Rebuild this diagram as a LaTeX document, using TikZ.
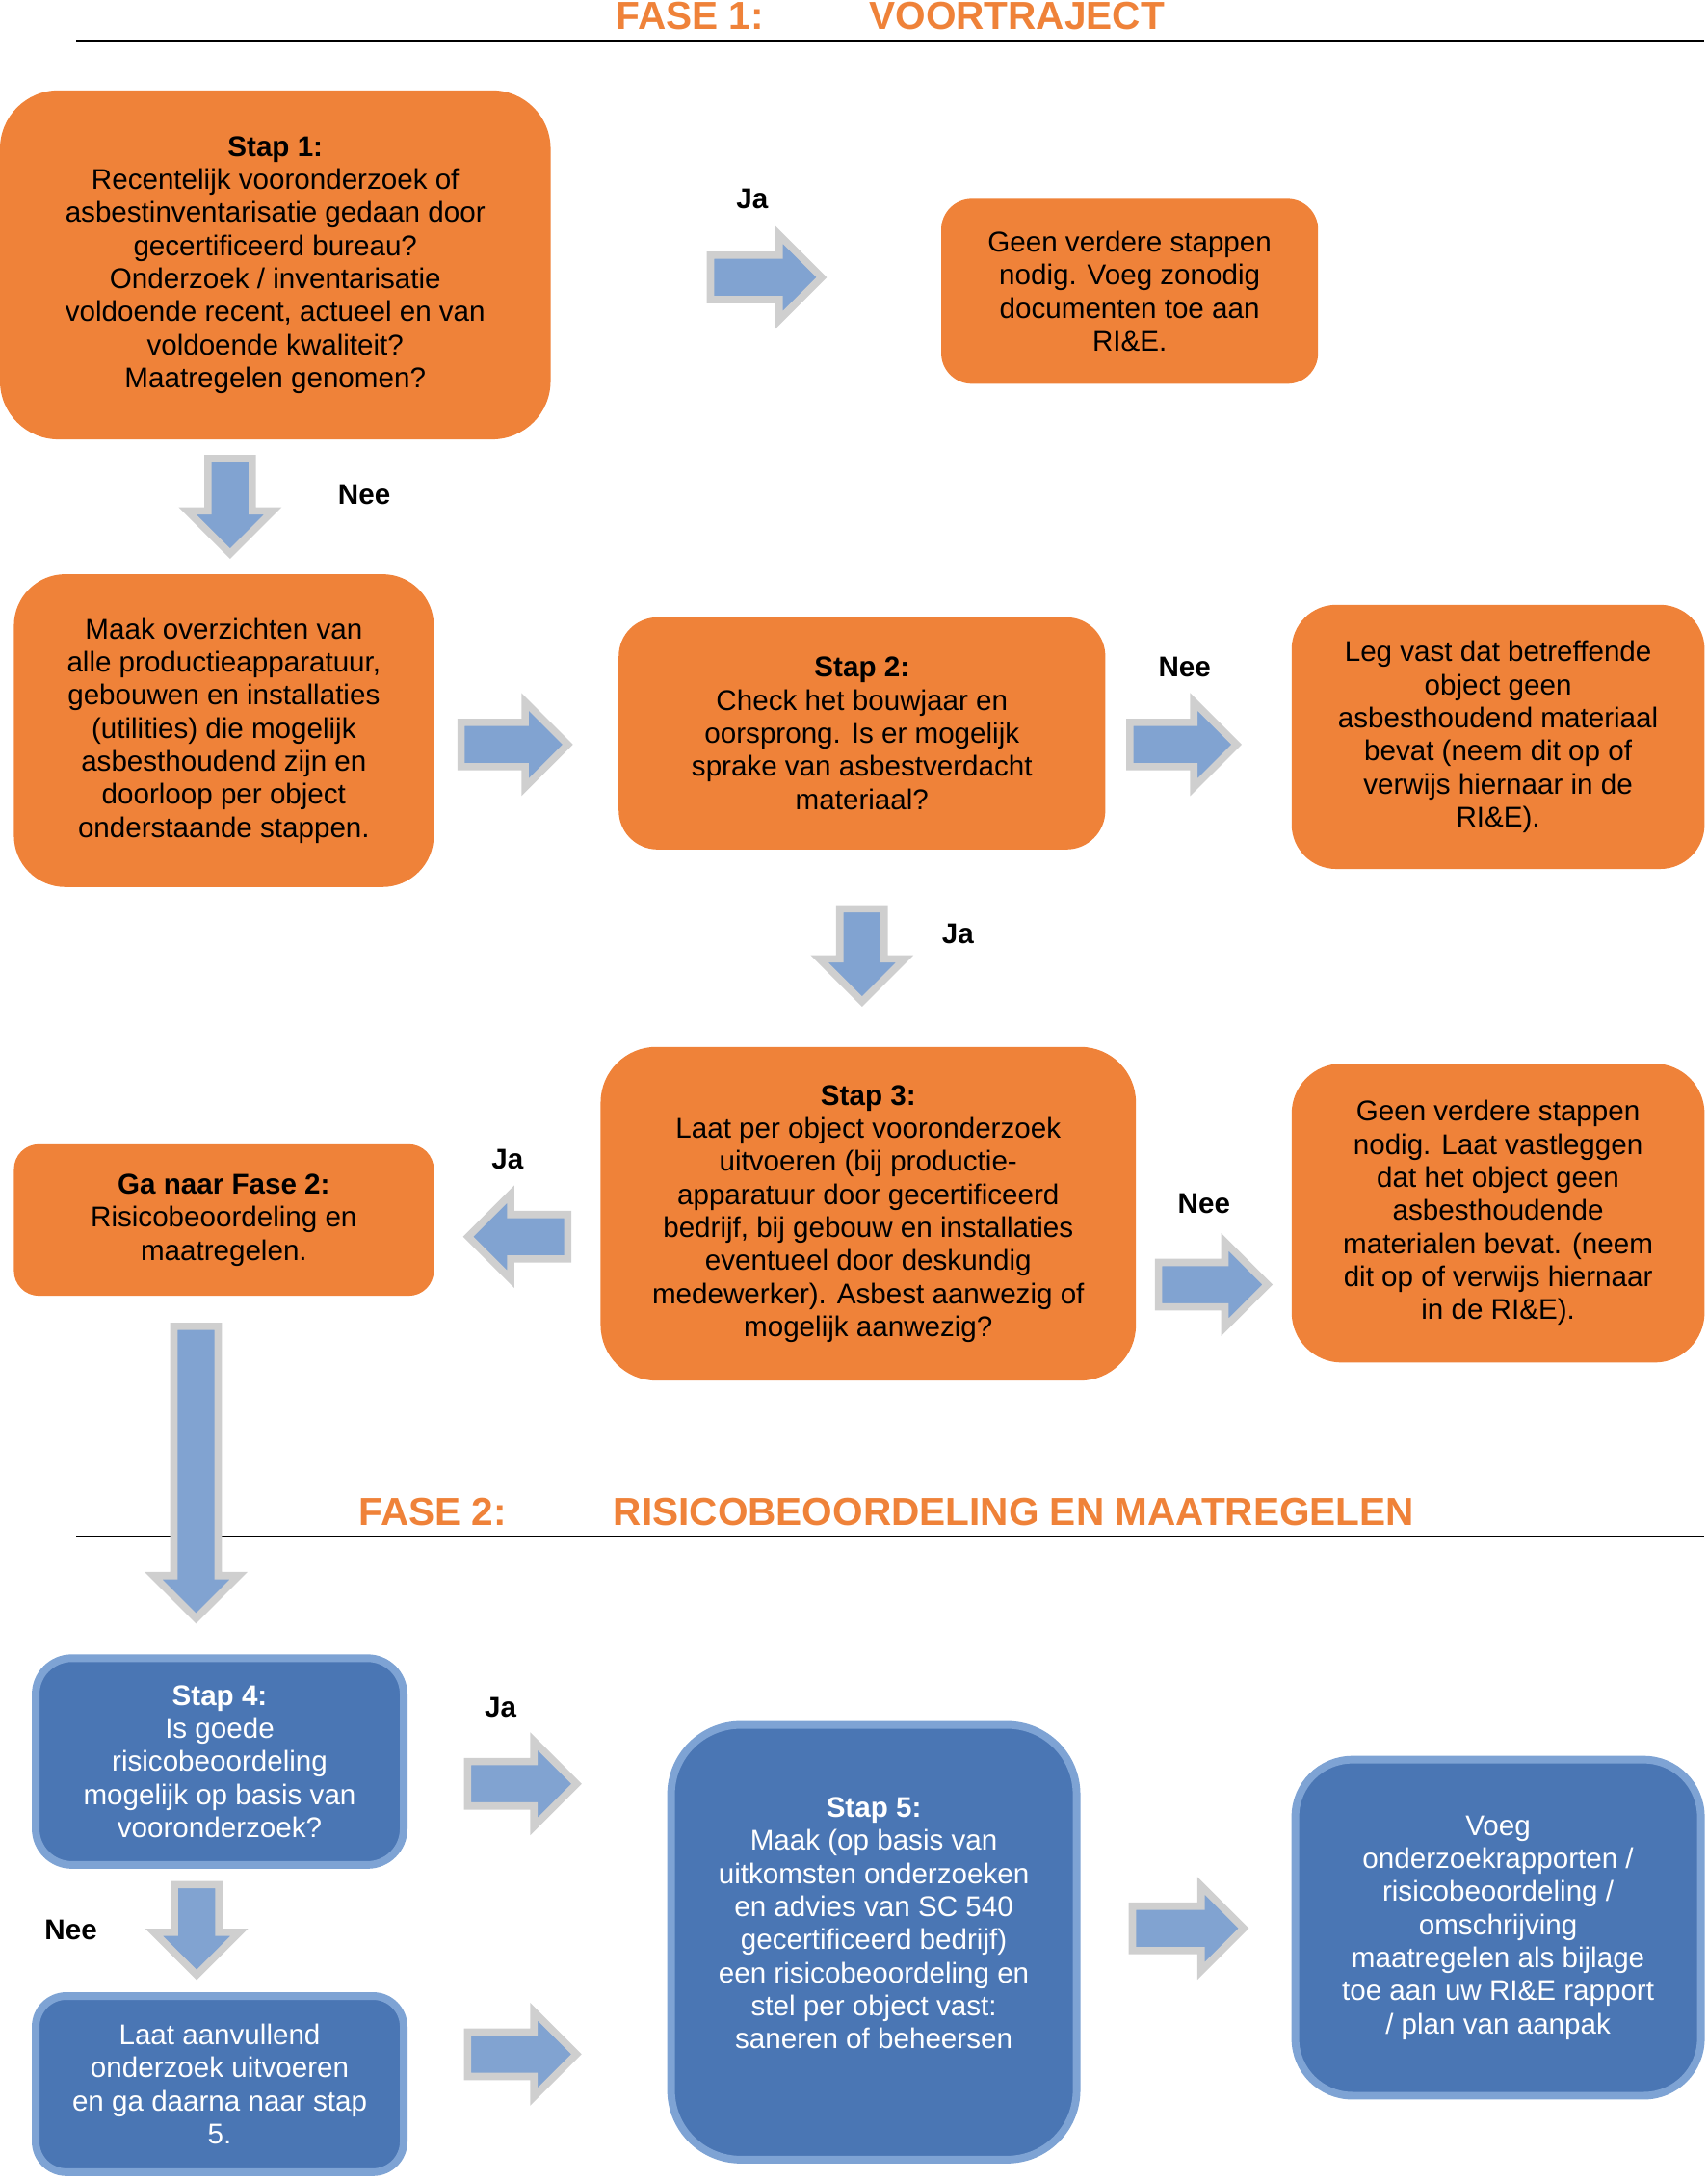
\documentclass[tikz,border=0pt]{standalone}
\usepackage{fontspec}
\setmainfont{Liberation Sans}
\usetikzlibrary{shapes.arrows}

\definecolor{oranje}{HTML}{EF8239}
\definecolor{donkerblauw}{HTML}{4A76B4}
\definecolor{randblauw}{HTML}{7EA3D4}
\definecolor{pijlblauw}{HTML}{81A3D1}
\definecolor{pijlgrijs}{HTML}{CFCFCF}

\tikzset{
  tekst/.style={font=\fontsize{17.5}{20.3}\selectfont, align=center, inner sep=0pt},
  oranjevak/.style={tekst, fill=oranje, text=black},
  blauwvak/.style={tekst, fill=donkerblauw, draw=randblauw, line width=4.7pt, text=white},
  blokpijl/.style={single arrow, fill=pijlblauw, draw=pijlgrijs, line width=4.5pt, line join=miter,
    inner xsep=0pt, inner ysep=0.4cm, single arrow head extend=0.44cm, minimum height=#1},
  blokpijl/.default=2.35cm,
  keuze/.style={font=\fontsize{17.5}{20}\selectfont\bfseries},
  fasetitel/.style={font=\fontsize{24}{28}\selectfont\bfseries, text=oranje, anchor=base west, inner sep=0pt}
}

\begin{document}
\begin{tikzpicture}[x=0.03cm, y=-0.03cm]
    \useasboundingbox (0,0) rectangle (1228,1568);
    % Fase 1: titel en lijn
    \node[fasetitel] (fase1) at (443,21) {FASE 1:};
    \node[fasetitel] (voortraject) at (625,21) {VOORTRAJECT};
    \draw[line width=1.2pt] (55,30) -- (1226,30);
    % Stap 1
    \node[oranjevak, minimum width=11.88cm, minimum height=7.53cm, rounded corners=1.26cm] (stap1) at (198,190.5)
      {\textbf{Stap 1:}\\Recentelijk vooronderzoek of\\asbestinventarisatie gedaan door\\gecertificeerd bureau?\\Onderzoek / inventarisatie\\voldoende recent, actueel en van\\voldoende kwaliteit?\\Maatregelen genomen?};
    \node[oranjevak, minimum width=8.13cm, minimum height=3.99cm, rounded corners=0.66cm] (geen1) at (812.5,209.5)
      {Geen verdere stappen\\nodig. Voeg zonodig\\documenten toe aan\\RI\&E.};
    \node[blokpijl=2.4cm] (p1) at (543,199.5) {};
    \node[keuze] (ja1) at (541,143) {Ja};
    \node[blokpijl=2.05cm, rotate=-90] (p2) at (165.5,356) {};
    \node[keuze] (nee1) at (262,356) {Nee};
    % Overzichten en stap 2
    \node[oranjevak, minimum width=9.06cm, minimum height=6.75cm, rounded corners=1.11cm] (overzicht) at (161,525.5)
      {Maak overzichten van\\alle productieapparatuur,\\gebouwen en installaties\\(utilities) die mogelijk\\asbesthoudend zijn en\\doorloop per object\\onderstaande stappen.};
    \node[oranjevak, minimum width=10.5cm, minimum height=5.01cm, rounded corners=0.84cm] (stap2) at (620,527.5)
      {\textbf{Stap 2:}\\Check het bouwjaar en\\oorsprong. Is er mogelijk\\sprake van asbestverdacht\\materiaal?};
    \node[oranjevak, minimum width=8.91cm, minimum height=5.7cm, rounded corners=0.96cm] (legvast) at (1077.5,530)
      {Leg vast dat betreffende\\object geen\\asbesthoudend materiaal\\bevat (neem dit op of\\verwijs hiernaar in de\\RI\&E).};
    \node[blokpijl=2.3cm] (p3) at (362,535.5) {};
    \node[blokpijl=2.3cm] (p4) at (843,535.5) {};
    \node[keuze] (nee2) at (852,480) {Nee};
    \node[blokpijl=2.0cm, rotate=-90] (p5) at (620,679) {};
    \node[keuze] (ja2) at (689,672) {Ja};
    % Stap 3
    \node[oranjevak, minimum width=11.55cm, minimum height=7.2cm, rounded corners=1.2cm] (stap3) at (624.5,873)
      {\textbf{Stap 3:}\\Laat per object vooronderzoek\\uitvoeren (bij productie-\\apparatuur door gecertificeerd\\bedrijf, bij gebouw en installaties\\eventueel door deskundig\\medewerker). Asbest aanwezig of\\mogelijk aanwezig?};
    \node[oranjevak, minimum width=9.06cm, minimum height=3.27cm, rounded corners=0.54cm] (naarfase2) at (161,877.5)
      {\textbf{Ga naar Fase 2:}\\Risicobeoordeling en\\maatregelen.};
    \node[oranjevak, minimum width=8.91cm, minimum height=6.45cm, rounded corners=1.08cm] (geen2) at (1077.5,872.5)
      {Geen verdere stappen\\nodig. Laat vastleggen\\dat het object geen\\asbesthoudende\\materialen bevat. (neem\\dit op of verwijs hiernaar\\in de RI\&E).};
    \node[blokpijl=2.15cm, rotate=180] (p6) at (380.5,889.5) {};
    \node[keuze] (ja3) at (365,834) {Ja};
    \node[blokpijl=2.35cm] (p7) at (864.5,924) {};
    \node[keuze] (nee3) at (866,866) {Nee};
    % Fase 2: titel en lijn
    \node[fasetitel] (fase2) at (258,1097) {FASE 2:};
    \node[fasetitel] (risico) at (441,1097) {RISICOBEOORDELING EN MAATREGELEN};
    \draw[line width=1.2pt] (55,1105) -- (1226,1105);
    \node[blokpijl=6.3cm, rotate=-90] (p8) at (141,1051) {};
    % Stap 4 en 5
    \node[blauwvak, minimum width=7.94cm, minimum height=4.46cm, rounded corners=0.78cm] (stap4) at (158,1267)
      {\textbf{Stap 4:}\\Is goede\\risicobeoordeling\\mogelijk op basis van\\vooronderzoek?};
    \node[blauwvak, minimum width=7.94cm, minimum height=3.8cm, rounded corners=0.66cm] (aanvullend) at (158,1499)
      {Laat aanvullend\\onderzoek uitvoeren\\en ga daarna naar stap\\5.};
    \node[blauwvak, minimum width=8.75cm, minimum height=9.38cm, rounded corners=1.5cm] (stap5) at (628.5,1397)
      {\textbf{Stap 5:}\\Maak (op basis van\\uitkomsten onderzoeken\\en advies van SC 540\\gecertificeerd bedrijf)\\een risicobeoordeling en\\stel per object vast:\\saneren of beheersen\\\rule{0pt}{0.78cm}};
    \node[blauwvak, minimum width=8.75cm, minimum height=7.25cm, rounded corners=1.23cm] (voeg) at (1077.5,1386.5)
      {Voeg\\onderzoekrapporten /\\risicobeoordeling /\\omschrijving\\maatregelen als bijlage\\toe aan uw RI\&E rapport\\/ plan van aanpak};
    \node[blokpijl] (p9) at (367.5,1283) {};
    \node[keuze] (ja4) at (360,1228) {Ja};
    \node[blokpijl=1.95cm, rotate=-90] (p10) at (141.5,1380) {};
    \node[keuze] (nee4) at (51,1388) {Nee};
    \node[blokpijl] (p11) at (367.5,1477.5) {};
    \node[blokpijl=2.4cm] (p12) at (846.5,1387) {};
\end{tikzpicture}
\end{document}
